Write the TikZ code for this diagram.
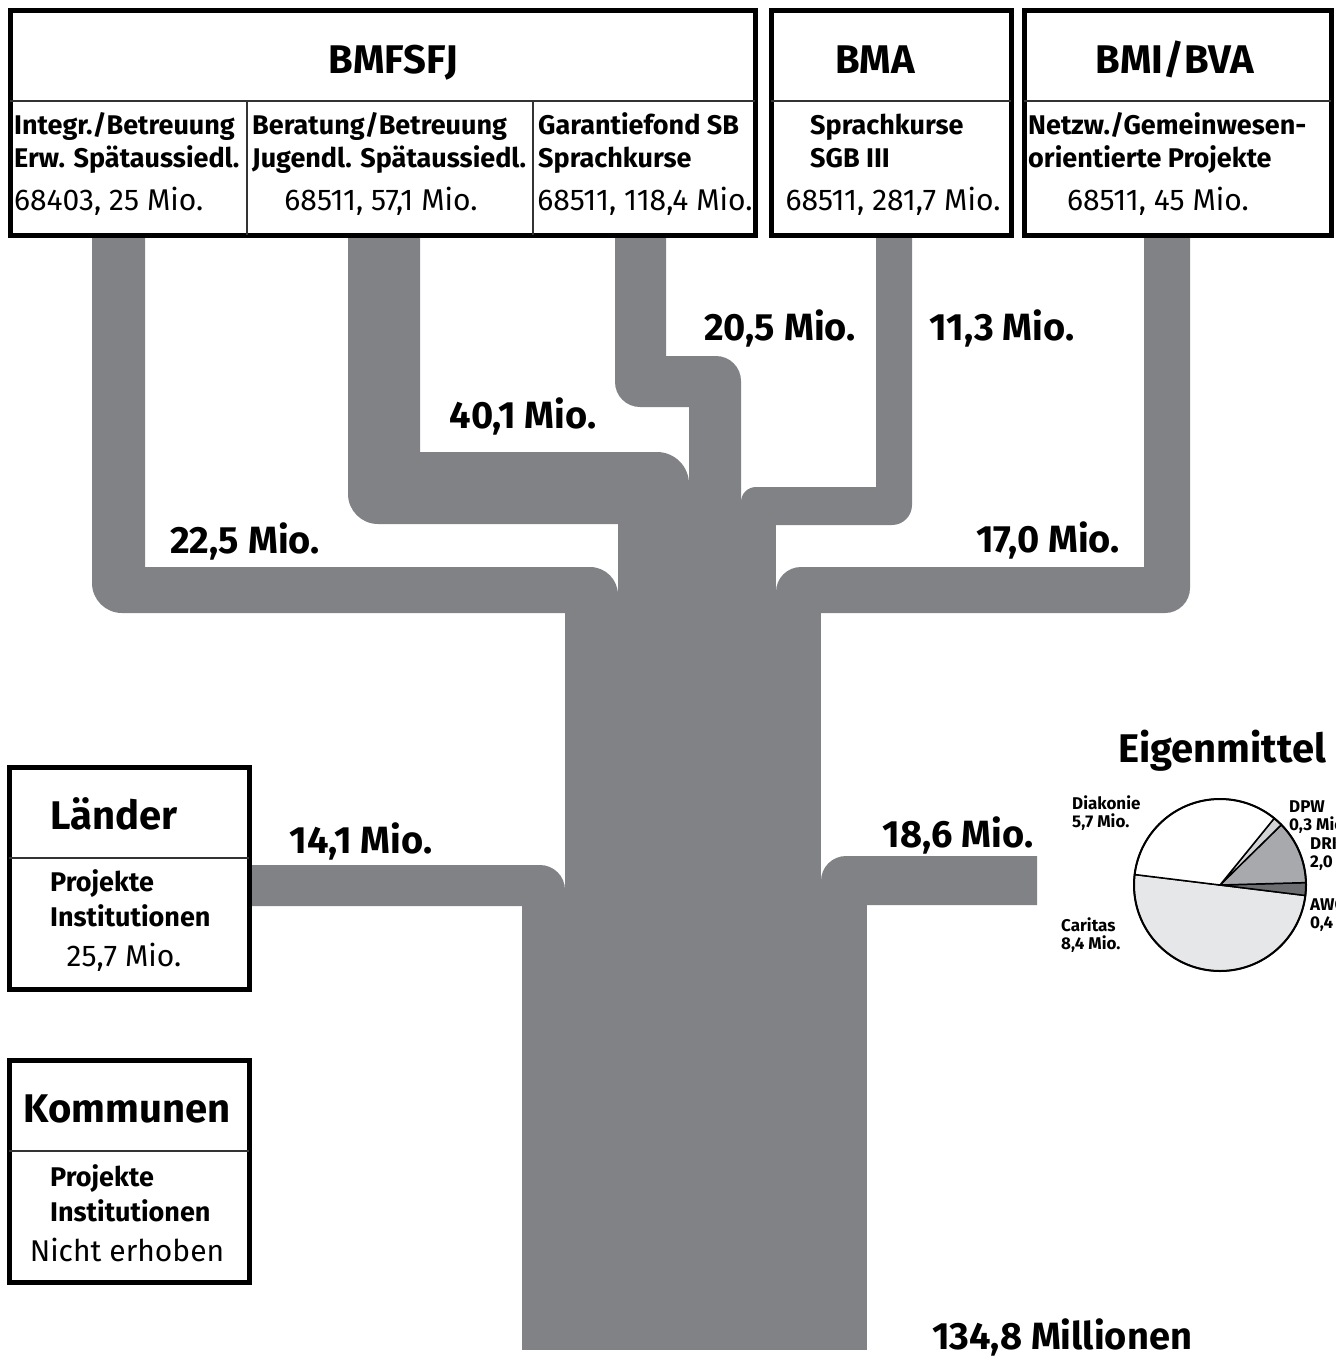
\documentclass[tikz,border=0pt]{standalone}
\usepackage{fontspec}
\setmainfont{Fira Sans}
\definecolor{flussgrau}{RGB}{129,130,134}
\definecolor{kuchenhell}{RGB}{230,231,232}
\definecolor{kuchenblass}{RGB}{209,211,212}
\definecolor{kuchenmittel}{RGB}{167,169,172}
\definecolor{kuchendunkel}{RGB}{109,110,113}

\begin{document}
\begin{tikzpicture}[x=1pt,y=1pt]
		% Define styles for streams, frames and texts
		\tikzset{
			fluss/.style={fill=flussgrau},
			rahmen/.style={draw=black, line width=5pt},
			trenn/.style={draw=black!80, line width=1.2pt},
			kopf/.style={font=\bfseries\fontsize{40}{44}\selectfont, anchor=base, inner sep=0pt},
			posten/.style={font=\bfseries\fontsize{27}{33}\selectfont, align=left, anchor=base west, inner sep=0pt},
			betrag/.style={font=\fontsize{30}{32}\selectfont, anchor=base, inner sep=0pt},
			mio/.style={font=\bfseries\fontsize{38}{40}\selectfont, anchor=base, inner sep=0pt},
			kuchen/.style={font=\bfseries\fontsize{17}{18}\selectfont, align=left, anchor=base west, inner sep=0pt},
			stueck/.style={draw=black, line width=1.5pt}
		}
		\useasboundingbox (0,0) rectangle (1336,-1358);
		
		% Draw the streams from the ministries
		\fill[fluss] (145,-236) -- (145,-567) -- (590,-567) arc[start angle=90, end angle=0, radius=28] -- (618,-613) -- (122,-613) arc[start angle=270, end angle=180, radius=30] -- (92,-236) -- cycle;
		\fill[fluss] (420,-236) -- (420,-452) -- (657,-452) arc[start angle=90, end angle=0, radius=32] -- (689,-524) -- (378,-524) arc[start angle=270, end angle=180, radius=30] -- (348,-236) -- cycle;
		\fill[fluss] (615,-236) -- (615,-382) arc[start angle=180, end angle=270, radius=25] -- (689,-407) -- (689,-530) -- (741,-530) -- (741,-381) arc[start angle=0, end angle=90, radius=25] -- (666,-356) -- (666,-236) -- cycle;
		\fill[fluss] (876,-236) -- (876,-487) -- (756,-487) arc[start angle=90, end angle=180, radius=15] -- (741,-525) -- (892,-525) arc[start angle=270, end angle=360, radius=20] -- (912,-236) -- cycle;
		\fill[fluss] (1144,-236) -- (1144,-567) -- (801,-567) arc[start angle=90, end angle=180, radius=25] -- (776,-613) -- (1165,-613) arc[start angle=270, end angle=360, radius=25] -- (1190,-236) -- cycle;
		
		% Draw the streams from Länder and Eigenmittel
		\fill[fluss] (251,-865) -- (540,-865) arc[start angle=90, end angle=0, radius=25] -- (565,-906) -- (251,-906) -- cycle;
		\fill[fluss] (1037,-856) -- (846,-856) arc[start angle=90, end angle=180, radius=25] -- (821,-905) -- (1037,-905) -- cycle;
		
		% Draw the trunk
		\fill[fluss] (618,-522) rectangle (776,-615);
		\fill[fluss] (565,-613) rectangle (821,-908);
		\fill[fluss] (522,-904) rectangle (867,-1350);
		
		% Draw the ministry boxes
		\draw[rahmen] (10,-10) rectangle (755,-235);
		\draw[trenn] (10,-101) -- (755,-101);
		\draw[trenn] (247,-101) -- (247,-235);
		\draw[trenn] (533,-101) -- (533,-235);
		\draw[rahmen] (771,-10) rectangle (1011,-235);
		\draw[trenn] (771,-101) -- (1011,-101);
		\draw[rahmen] (1024,-10) rectangle (1331,-235);
		\draw[trenn] (1024,-101) -- (1331,-101);
		
		% Add ministry labels (multi-line nodes sit on their last baseline)
		\node[kopf] (bmfsfj) at (393,-73) {BMFSFJ};
		\node[kopf] (bma) at (875,-73) {BMA};
		\node[kopf] (bmi) at (1175,-73) {BMI/BVA};
		\node[posten] (integr) at (14,-167) {Integr./Betreuung\\Erw. Spätaussiedl.};
		\node[posten] (beratung) at (252,-167) {Beratung/Betreuung\\Jugendl. Spätaussiedl.};
		\node[posten] (garantie) at (538,-167) {Garantiefond SB\\Sprachkurse};
		\node[posten] (sprach) at (810,-167) {Sprachkurse\\SGB III};
		\node[posten] (netzw) at (1028,-167) {Netzw./Gemeinwesen-\\orientierte Projekte};
		\node[betrag, anchor=base west] (integrbetrag) at (14,-210) {68403, 25 Mio.};
		\node[betrag] (beratungbetrag) at (381,-210) {68511, 57,1 Mio.};
		\node[betrag] (garantiebetrag) at (645,-210) {68511, 118,4 Mio.};
		\node[betrag] (sprachbetrag) at (893,-210) {68511, 281,7 Mio.};
		\node[betrag] (netzwbetrag) at (1158,-210) {68511, 45 Mio.};
		
		% Draw the boxes for Länder and Kommunen
		\draw[rahmen] (9,-767) rectangle (249,-989);
		\draw[trenn] (9,-858) -- (249,-858);
		\draw[rahmen] (9,-1060) rectangle (249,-1282);
		\draw[trenn] (9,-1151) -- (249,-1151);
		\node[kopf] (laender) at (114,-829) {Länder};
		\node[posten, font=\bfseries\fontsize{27}{35}\selectfont] (laenderprojekte) at (50,-926) {Projekte\\Institutionen};
		\node[betrag] (laenderbetrag) at (124,-966) {25,7 Mio.};
		\node[kopf] (kommunen) at (127,-1122) {Kommunen};
		\node[posten, font=\bfseries\fontsize{27}{35}\selectfont] (kommunenprojekte) at (50,-1221) {Projekte\\Institutionen};
		\node[betrag] (kommunenbetrag) at (127,-1261) {Nicht erhoben};
		
		% Add stream labels
		\node[mio] (mioA) at (245,-553) {22,5 Mio.};
		\node[mio] (mioB) at (523,-428) {40,1 Mio.};
		\node[mio] (mioC) at (780,-340) {20,5 Mio.};
		\node[mio] (mioD) at (1002,-340) {11,3 Mio.};
		\node[mio] (mioE) at (1048,-552) {17,0 Mio.};
		\node[mio] (mioF) at (361,-853) {14,1 Mio.};
		\node[mio] (mioG) at (958,-847) {18,6 Mio.};
		\node[mio] (summe) at (1062,-1349) {134,8 Millionen};
		
		% Draw the pie chart of Eigenmittel
		\coordinate (kuchenmitte) at (1220,-885);
		\node[kopf] (eigen) at (1222,-762) {Eigenmittel};
		\filldraw[stueck, fill=kuchenhell] (kuchenmitte) -- ++(173:86) arc[start angle=173, end angle=353, radius=86] -- cycle;
		\filldraw[stueck, fill=kuchendunkel] (kuchenmitte) -- ++(353:86) arc[start angle=353, end angle=361.6, radius=86] -- cycle;
		\filldraw[stueck, fill=kuchenmittel] (kuchenmitte) -- ++(1.6:86) arc[start angle=1.6, end angle=44.5, radius=86] -- cycle;
		\filldraw[stueck, fill=kuchenblass] (kuchenmitte) -- ++(44.5:86) arc[start angle=44.5, end angle=50.9, radius=86] -- cycle;
		\filldraw[stueck, fill=white] (kuchenmitte) -- ++(50.9:86) arc[start angle=50.9, end angle=173, radius=86] -- cycle;
		\draw[black, line width=2pt] (kuchenmitte) circle[radius=86];
		
		% Add pie labels
		\node[kuchen] (diakonie) at (1072,-827) {Diakonie\\5,7 Mio.};
		\node[kuchen] (caritas) at (1061,-949) {Caritas\\8,4 Mio.};
		\node[kuchen] (dpw) at (1289,-830) {DPW\\0,3 Mio.};
		\node[kuchen] (drk) at (1310,-867) {DRK\\2,0 Mio.};
		\node[kuchen] (awo) at (1310,-928) {AWO\\0,4 Mio.};
	\end{tikzpicture}
\end{document}
